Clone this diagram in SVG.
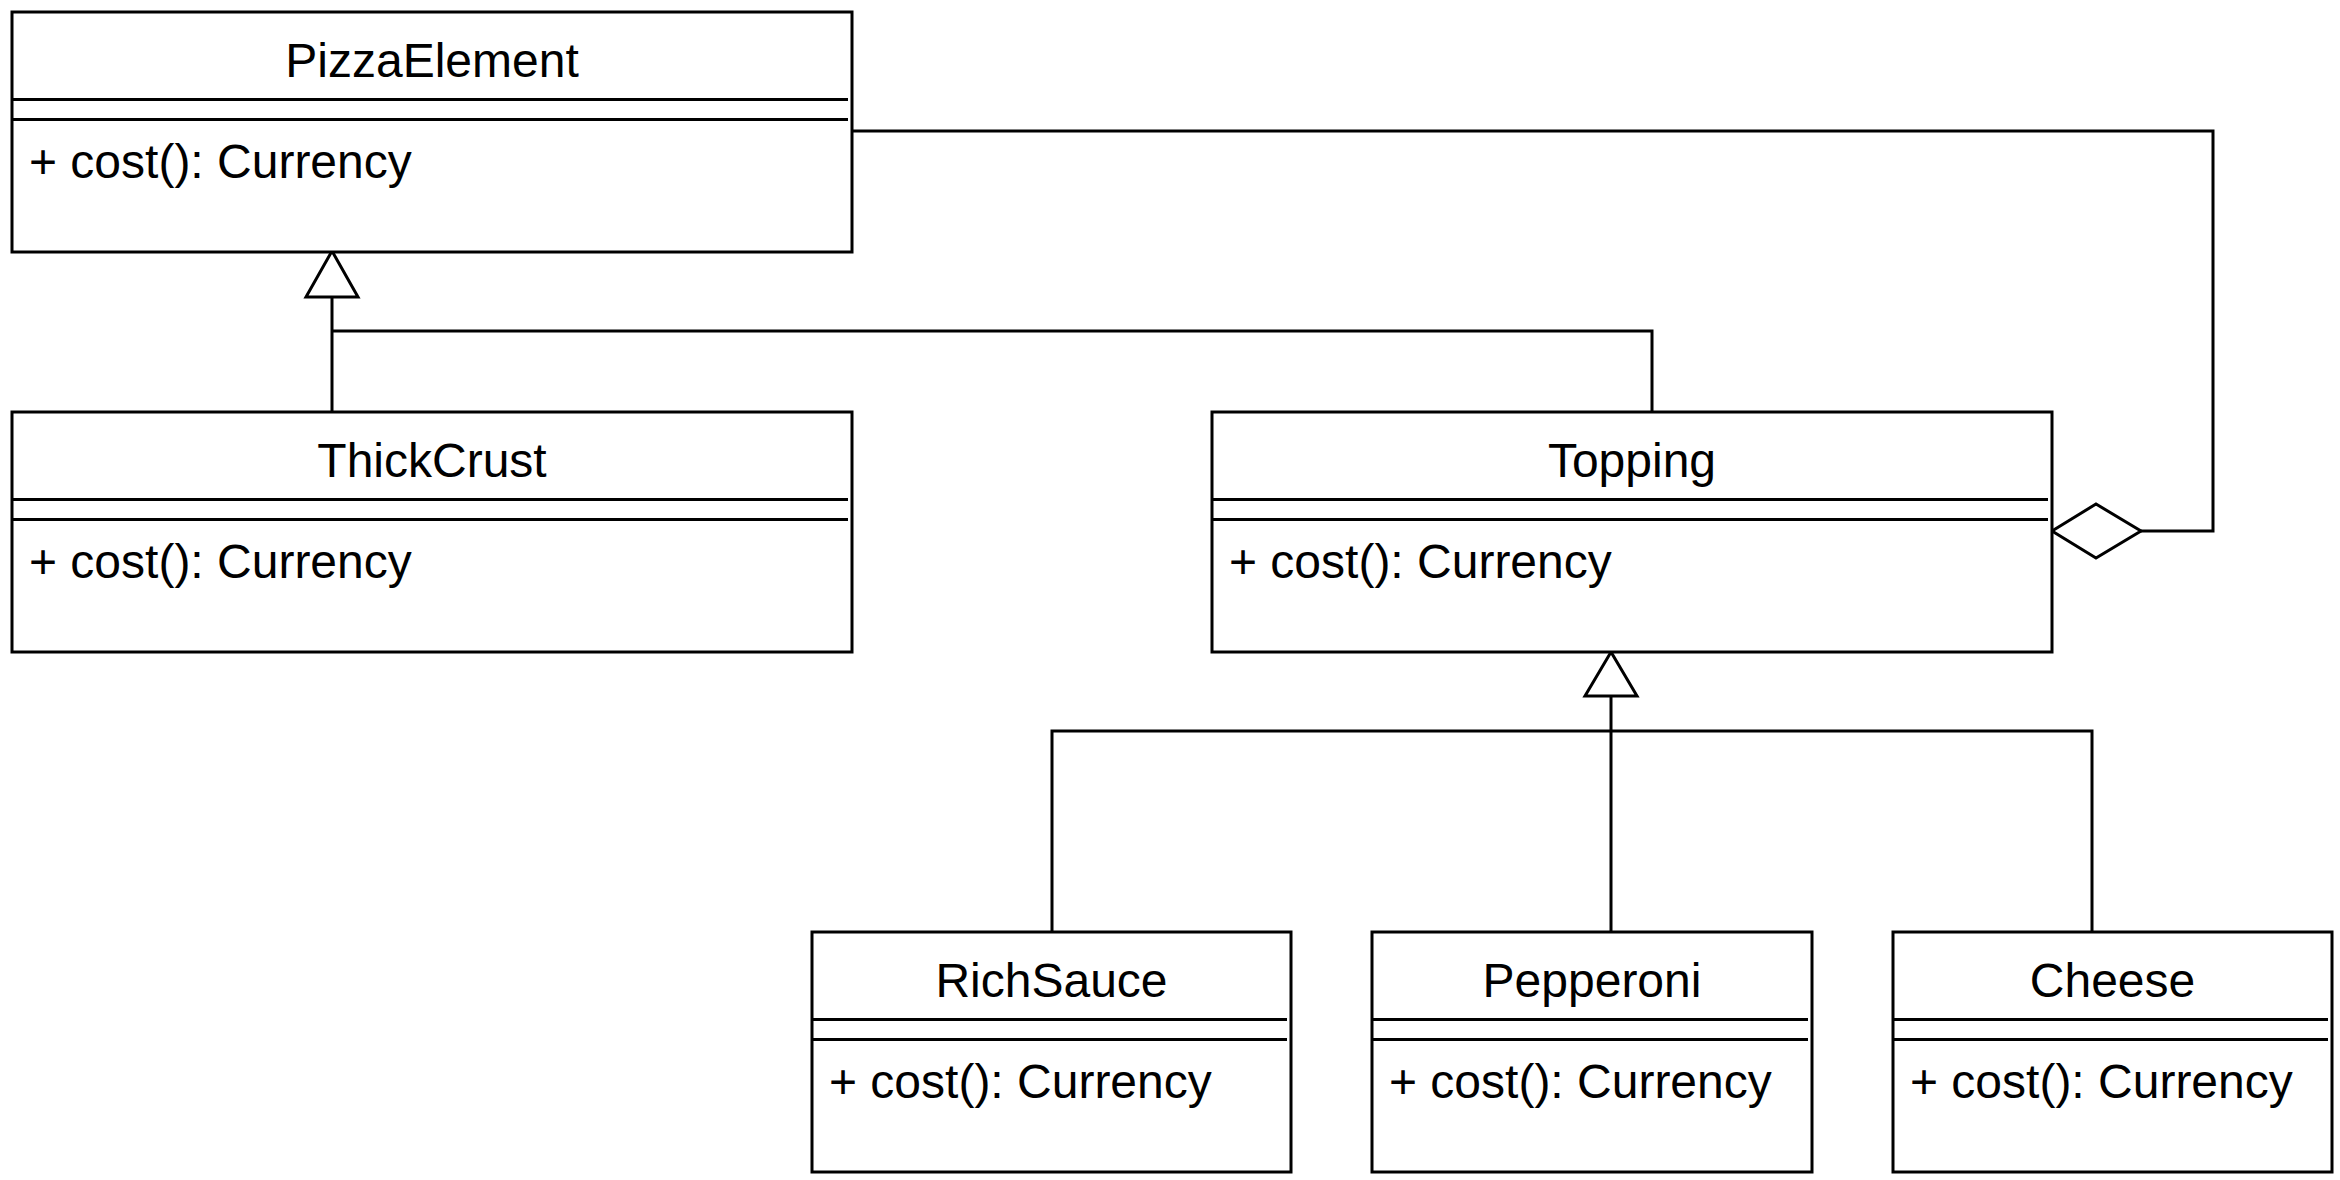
<svg xmlns="http://www.w3.org/2000/svg" width="2340" height="1180" viewBox="0 0 2340 1180">
<style>
.box{fill:#fff;stroke:#000;stroke-width:3}
.sep{stroke:#000;stroke-width:3;fill:none}
.t{font-family:"Liberation Sans",Arial,sans-serif;font-size:48px;fill:#000}
.c{text-anchor:middle}
.edge{fill:none;stroke:#000;stroke-width:3}
.head{fill:#fff;stroke:#000;stroke-width:3;stroke-linejoin:miter}
</style>
<rect width="2340" height="1180" fill="#fff"/>
<g id="connectors">
  <path class="edge" d="M332 412 V297"/>
  <path class="edge" d="M1652 412 V331 H332"/>
  <polygon class="head" points="332,251 306,297 358,297"/>
  <path class="edge" d="M1052 932 V731 H2092 V932"/>
  <path class="edge" d="M1611 932 V696"/>
  <polygon class="head" points="1611,652 1585,696 1637,696"/>
  <path class="edge" d="M852 131 H2213 V531 H2141"/>
  <polygon class="head" points="2052,531 2096,504 2141,531 2096,558"/>
</g>
<g id="PizzaElement">
  <rect class="box" x="12" y="12" width="840" height="240"/>
  <path class="sep" d="M12 99.5 H848 M12 119.5 H848"/>
  <text class="t c" x="432" y="77">PizzaElement</text>
  <text class="t" x="29" y="178">+ cost(): Currency</text>
</g>
<g id="ThickCrust">
  <rect class="box" x="12" y="412" width="840" height="240"/>
  <path class="sep" d="M12 499.5 H848 M12 519.5 H848"/>
  <text class="t c" x="432" y="477">ThickCrust</text>
  <text class="t" x="29" y="578">+ cost(): Currency</text>
</g>
<g id="Topping">
  <rect class="box" x="1212" y="412" width="840" height="240"/>
  <path class="sep" d="M1212 499.5 H2048 M1212 519.5 H2048"/>
  <text class="t c" x="1632" y="477">Topping</text>
  <text class="t" x="1229" y="578">+ cost(): Currency</text>
</g>
<g id="RichSauce">
  <rect class="box" x="812" y="932" width="479" height="240"/>
  <path class="sep" d="M812 1019.5 H1287 M812 1039.5 H1287"/>
  <text class="t c" x="1051.5" y="997">RichSauce</text>
  <text class="t" x="829" y="1098">+ cost(): Currency</text>
</g>
<g id="Pepperoni">
  <rect class="box" x="1372" y="932" width="440" height="240"/>
  <path class="sep" d="M1372 1019.5 H1808 M1372 1039.5 H1808"/>
  <text class="t c" x="1592" y="997">Pepperoni</text>
  <text class="t" x="1389" y="1098">+ cost(): Currency</text>
</g>
<g id="Cheese">
  <rect class="box" x="1893" y="932" width="439" height="240"/>
  <path class="sep" d="M1893 1019.5 H2328 M1893 1039.5 H2328"/>
  <text class="t c" x="2112.5" y="997">Cheese</text>
  <text class="t" x="1910" y="1098">+ cost(): Currency</text>
</g>
</svg>
